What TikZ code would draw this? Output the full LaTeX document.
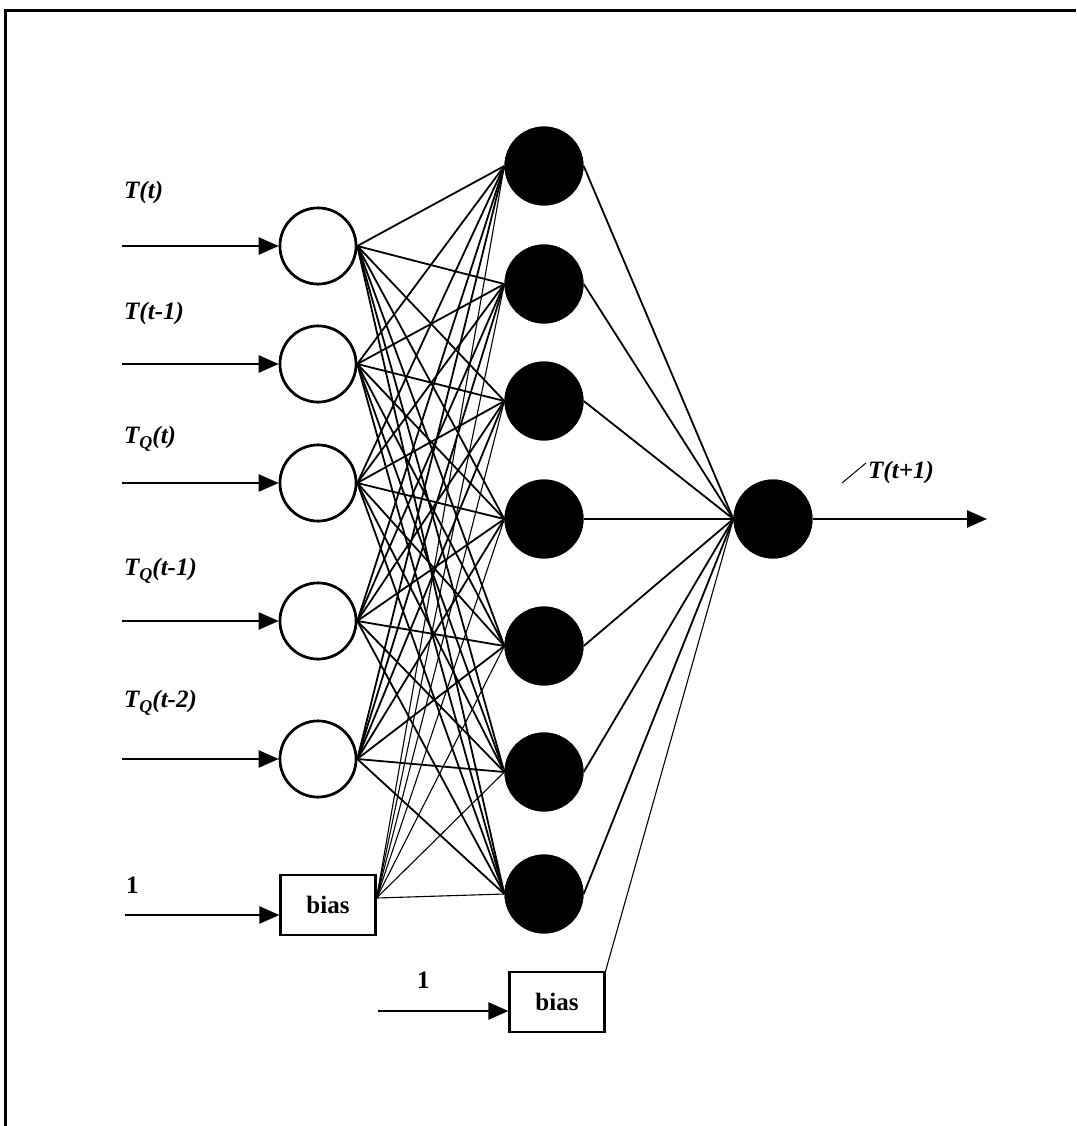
\documentclass[tikz,border=0pt]{standalone}
\usepackage{fontspec}
\setmainfont{Liberation Serif}
\usetikzlibrary{arrows.meta}
\begin{document}
\begin{tikzpicture}[x=1pt,y=-1pt,
  inp/.style={circle,draw,line width=2.6pt,minimum size=76pt,inner sep=0pt,fill=white},
  hid/.style={circle,fill=black,minimum size=79pt,inner sep=0pt},
  biasbox/.style={draw,line width=2.2pt,minimum width=95pt,minimum height=60pt,inner sep=0pt,fill=white,font=\fontsize{25}{27}\selectfont\bfseries},
  lab/.style={anchor=base west,inner sep=0pt,font=\fontsize{25}{27}\selectfont\bfseries\itshape},
  one/.style={anchor=base west,inner sep=0pt,font=\fontsize{25}{27}\selectfont\bfseries},
  feed/.style={line width=2.4pt,-{Triangle[length=20pt,width=17pt]}},
  wire/.style={line width=1.8pt},
  bwire/.style={line width=1.1pt}]
\useasboundingbox (0,0) rectangle (1076,1126);
% frame (top and left)
\draw[line width=3pt] (1076,11) -- (5,11) -- (5,1126);
% input nodes
\foreach \i/\y in {1/246,2/364,3/483,4/621,5/759}
  \node[inp] (i\i) at (318,\y) {};
\node[biasbox] (b1) at (328,905) {bias};
% hidden nodes
\foreach \j/\y in {1/166,2/284,3/401,4/519,5/646,6/772,7/894}
  \node[hid] (h\j) at (544,\y) {};
% output node
\node[hid] (o) at (773,519) {};
\node[biasbox] (b2) at (557,1002) {bias};
% connections input -> hidden
\foreach \i in {1,...,5}
  \foreach \j in {1,...,7}
    \draw[wire] (i\i.east) -- (h\j.west);
\coordinate (b1out) at ([yshift=7pt]b1.east);
\foreach \j in {1,...,7}
  \draw[bwire] (b1out) -- (h\j.west);
% hidden -> output
\foreach \j in {1,...,7}
  \draw[wire] (h\j.east) -- (o.west);
\draw[bwire] (b2.north east) -- (o.west);
% redraw nodes on top
\foreach \i/\y in {1/246,2/364,3/483,4/621,5/759}
  \node[inp] at (318,\y) {};
\foreach \j/\y in {1/166,2/284,3/401,4/519,5/646,6/772,7/894}
  \node[hid] at (544,\y) {};
\node[hid] at (773,519) {};
% input arrows
\foreach \i/\y in {1/246,2/364,3/483,4/621,5/759}
  {\coordinate (s\i) at (122,\y);
   \draw[feed] (s\i) -- (i\i.west);}
\coordinate (s6) at (125,915);
\draw[feed] (s6) -- (s6 -| b1.west);
\coordinate (s7) at (378,1011);
\draw[feed] (s7) -- (s7 -| b2.west);
% output arrow
\coordinate (oe) at (987,519);
\draw[feed] (o.east) -- (oe);
% labels
\node[lab] (l1) at (124,198) {T(t)};
\node[lab] (l2) at (124,319) {T(t-1)};
\node[lab] (l3) at (124,443) {T\raisebox{-5pt}{\fontsize{18}{18}\selectfont Q}(t)};
\node[lab] (l4) at (124,575) {T\raisebox{-5pt}{\fontsize{18}{18}\selectfont Q}(t-1)};
\node[lab] (l5) at (124,707) {T\raisebox{-5pt}{\fontsize{18}{18}\selectfont Q}(t-2)};
\node[one] (l6) at (126,893) {1};
\node[one] (l7) at (417,988) {1};
\node[lab] (l8) at (868,478) {T(t+1)};
\coordinate (tk1) at (842,483);
\coordinate (tk2) at (866,463);
\draw[line width=1pt] (tk1) -- (tk2);
\end{tikzpicture}
\end{document}
